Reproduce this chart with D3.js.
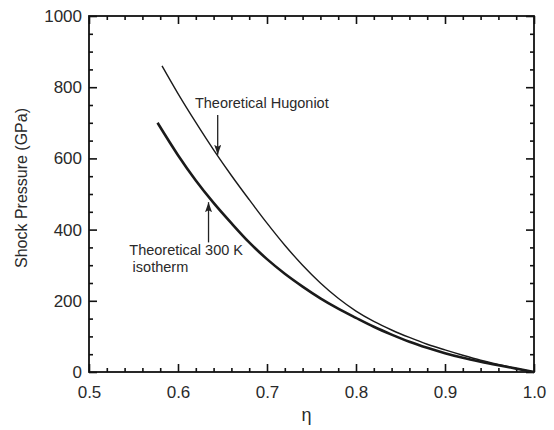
<!DOCTYPE html>
<html>
<head>
<meta charset="utf-8">
<script src="https://cdn.jsdelivr.net/npm/d3@7"></script>
<style>
  body { margin: 0; background: #fff; }
  svg text { font-family: "Liberation Sans", Arial, Helvetica, sans-serif; fill: #2a2a2a; }
</style>
</head>
<body>
<svg id="chart" width="554" height="430"></svg>
<script>
// compression eta and shock pressure (GPa)
var etaHugoniot = [0.582, 0.60, 0.62, 0.64, 0.66, 0.68, 0.70, 0.72, 0.74, 0.76, 0.78, 0.80, 0.82, 0.84, 0.86, 0.88, 0.90, 0.92, 0.94, 0.96, 0.98, 1.00];
var pHugoniot   = [860, 782, 701, 624, 552, 484, 418, 356, 300, 250, 207, 171, 142, 118, 97, 78, 62, 47, 33, 21, 10, 0];

var etaIsotherm = [0.577, 0.60, 0.62, 0.64, 0.66, 0.68, 0.70, 0.72, 0.74, 0.76, 0.78, 0.80, 0.82, 0.84, 0.86, 0.88, 0.90, 0.92, 0.94, 0.96, 0.98, 1.00];
var pIsotherm   = [700, 609, 538, 475, 418, 364, 317, 276, 240, 207, 178, 152, 127, 105, 85, 68, 53, 40, 29, 19, 9.5, 0];

var xTicks = [0.5, 0.6, 0.7, 0.8, 0.9, 1.0];
var yTicks = [0, 200, 400, 600, 800, 1000];

// annotations: label lines and arrows in data units
var hugLabel = { eta: 0.619, p: 741, text: "Theoretical Hugoniot" };
var hugArrow = { eta: 0.6446, from: 722, to: 610 };
var isoLabel = [
  { eta: 0.5453, p: 329, text: "Theoretical 300 K" },
  { eta: 0.549, p: 282, text: "isotherm" }
];
var isoArrow = { eta: 0.6343, from: 364, to: 477 };

var svg = d3.select("#chart"),
  margin = { top: 16, left: 89, bottom: 58, right: 20 },
  width = +svg.attr("width") - margin.left - margin.right,
  height = +svg.attr("height") - margin.top - margin.bottom;

var x = d3.scaleLinear().domain([0.5, 1.0]).range([margin.left, margin.left + width]);
var y = d3.scaleLinear().domain([0, 1000]).range([margin.top + height, margin.top]);

var minorX = d3.range(0.5, 1.0001, 0.02).filter(v => Math.abs(v * 10 - Math.round(v * 10)) > 1e-6);
var minorY = d3.range(0, 1001, 50).filter(v => v % 200 != 0);

svg.append("defs").append("marker")
  .attr("id", "head")
  .attr("viewBox", "0 0 10 10")
  .attr("refX", 10)
  .attr("refY", 5)
  .attr("markerWidth", 10)
  .attr("markerHeight", 7)
  .attr("markerUnits", "userSpaceOnUse")
  .attr("orient", "auto")
  .attr("preserveAspectRatio", "none")
  .append("path")
  .attr("d", "M0,0 L10,5 L0,10 L2,5 Z")
  .attr("fill", "#222");

// axes: major ticks with labels, minor ticks plain, all pointing inside
function tickAxis(axis, scale, values, size, pad, fmt) {
  var a = axis(scale).tickValues(values).tickSizeInner(-size).tickSizeOuter(0);
  if (fmt) a.tickPadding(pad).tickFormat(d3.format(fmt));
  else a.tickFormat("");
  return a;
}

var atBottom = `translate(0,${margin.top + height})`,
  atTop = `translate(0,${margin.top})`,
  atLeft = `translate(${margin.left},0)`,
  atRight = `translate(${margin.left + width},0)`;

[
  [atBottom, tickAxis(d3.axisBottom, x, xTicks, 8, 14, ".1f")],
  [atBottom, tickAxis(d3.axisBottom, x, minorX, 4)],
  [atTop, tickAxis(d3.axisTop, x, xTicks, 8)],
  [atTop, tickAxis(d3.axisTop, x, minorX, 4)],
  [atLeft, tickAxis(d3.axisLeft, y, yTicks, 8, 7, "d")],
  [atLeft, tickAxis(d3.axisLeft, y, minorY, 4)],
  [atRight, tickAxis(d3.axisRight, y, yTicks, 8)],
  [atRight, tickAxis(d3.axisRight, y, minorY, 4)]
].forEach(function(d) {
  var g = svg.append("g").attr("transform", d[0]).call(d[1]);
  g.select(".domain").remove();
  g.selectAll("line").attr("stroke", "#111").attr("stroke-width", 1.6);
  g.selectAll("text").style("font-size", "17px").attr("fill", "#2a2a2a");
});

svg.append("rect")
  .attr("x", margin.left)
  .attr("y", margin.top)
  .attr("width", width)
  .attr("height", height)
  .attr("fill", "none")
  .attr("stroke", "#111")
  .attr("stroke-width", 1.8);

// curves
var line = d3.line().x(d => x(d[0])).y(d => y(d[1])).curve(d3.curveMonotoneX);

svg.append("path")
  .datum(d3.zip(etaIsotherm, pIsotherm))
  .attr("d", line)
  .attr("fill", "none")
  .attr("stroke", "#1a1a1a")
  .attr("stroke-width", 2.6);

svg.append("path")
  .datum(d3.zip(etaHugoniot, pHugoniot))
  .attr("d", line)
  .attr("fill", "none")
  .attr("stroke", "#1a1a1a")
  .attr("stroke-width", 1.4);

// annotations
svg.append("text")
  .attr("x", x(hugLabel.eta))
  .attr("y", y(hugLabel.p))
  .style("font-size", "14.5px")
  .text(hugLabel.text);

svg.selectAll(".iso-label")
  .data(isoLabel)
  .enter()
  .append("text")
  .attr("class", "iso-label")
  .attr("x", d => x(d.eta))
  .attr("y", d => y(d.p))
  .style("font-size", "14.5px")
  .text(d => d.text);

[hugArrow, isoArrow].forEach(function(a) {
  svg.append("line")
    .attr("x1", x(a.eta))
    .attr("x2", x(a.eta))
    .attr("y1", y(a.from))
    .attr("y2", y(a.to))
    .attr("stroke", "#222")
    .attr("stroke-width", 1.3)
    .attr("marker-end", "url(#head)");
});

// axis titles
svg.append("text")
  .attr("text-anchor", "middle")
  .attr("transform", `translate(27,${margin.top + height / 2 - 6}) rotate(-90)`)
  .style("font-size", "16px")
  .text("Shock Pressure (GPa)");

svg.append("text")
  .attr("text-anchor", "middle")
  .attr("x", margin.left + width / 2 - 5)
  .attr("y", 421)
  .style("font-size", "18px")
  .text("η");
</script>
</body>
</html>
